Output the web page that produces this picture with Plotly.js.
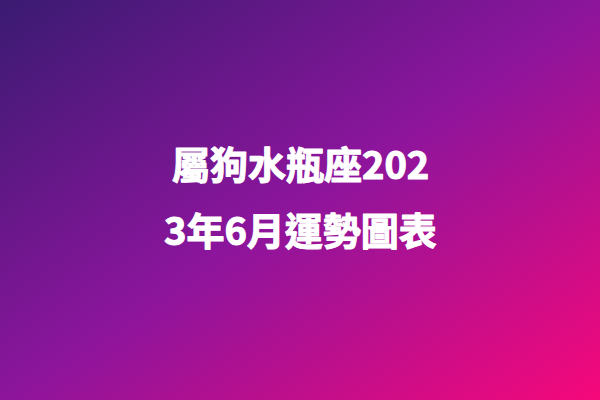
<!DOCTYPE html>
<html>
<head>
<meta charset="utf-8">
<script src="https://cdn.plot.ly/plotly-3.0.1.min.js"></script>
<style>
  html, body { margin: 0; padding: 0; }
  #myDiv {
    width: 600px;
    height: 400px;
    background: linear-gradient(to bottom right, #3a1b72 0%, #8c159c 50%, #f6087a 100%);
  }
  /* a fonte bold nao existe aqui, entao engrossa com contorno */
  #myDiv .annotation-text {
    stroke: #ffffff;
    stroke-width: 1.1px;
    stroke-linejoin: round;
  }
</style>
</head>
<body>
<div id="myDiv"></div>
<script>
// texto do titulo, quebrado em duas linhas como na imagem
const titleLines = ["屬狗水瓶座202", "3年6月運勢圖表"]
const lineY = [0.593, 0.43]

const annotations = titleLines.map((t, i) => ({
  text: "<b>" + t + "</b>",
  x: 0.5,
  y: lineY[i],
  xref: "paper",
  yref: "paper",
  xanchor: "center",
  yanchor: "middle",
  showarrow: false,
  font: {
    family: "Noto Sans CJK TC",
    size: 38,
    color: "#ffffff",
  },
}))

const layout = {
  width: 600,
  height: 400,
  margin: { l: 0, r: 0, t: 0, b: 0 },
  paper_bgcolor: "rgba(0,0,0,0)",
  plot_bgcolor: "rgba(0,0,0,0)",
  xaxis: { visible: false },
  yaxis: { visible: false },
  showlegend: false,
  annotations: annotations,
}

Plotly.newPlot("myDiv", [], layout, { staticPlot: true })
</script>
</body>
</html>
